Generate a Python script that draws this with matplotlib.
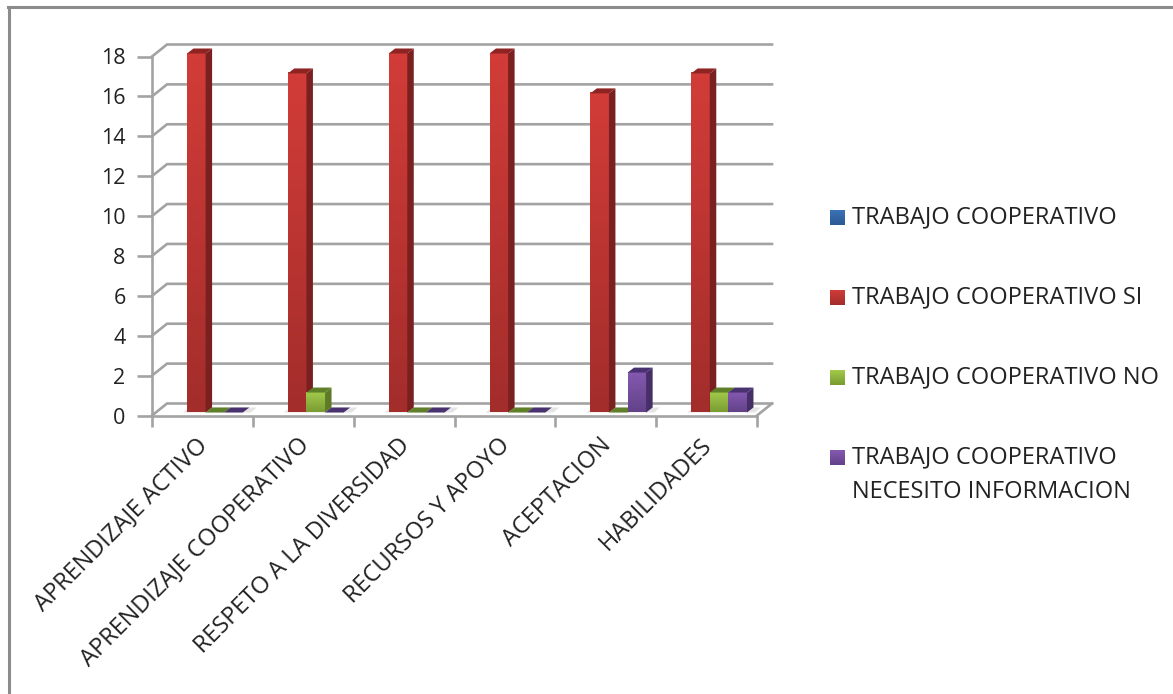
import matplotlib
matplotlib.use("Agg")
import matplotlib.pyplot as plt
import numpy as np
from matplotlib.colors import LinearSegmentedColormap
from matplotlib.patches import Polygon

categories = ["APRENDIZAJE ACTIVO", "APRENDIZAJE COOPERATIVO", "RESPETO A LA DIVERSIDAD",
              "RECURSOS Y APOYO", "ACEPTACION", "HABILIDADES"]
series_names = ["TRABAJO COOPERATIVO", "TRABAJO COOPERATIVO SI", "TRABAJO COOPERATIVO NO",
                "TRABAJO COOPERATIVO\nNECESITO INFORMACION"]
trabajo = [0, 0, 0, 0, 0, 0]
trabajo_si = [18, 17, 18, 18, 16, 17]
trabajo_no = [0, 1, 0, 0, 0, 1]
trabajo_info = [0, 0, 0, 0, 2, 1]
y_ticks = list(range(0, 20, 2))

# face top, face bottom, side, lid
red = ("#d23c38", "#a32d2b", "#7a2020", "#8e2422")
green = ("#a2c94a", "#7a9c32", "#5d7b27", "#5f7f28")
purple = ("#8459b0", "#634289", "#452f66", "#4a3270")

W, H = 1173, 694
fig = plt.figure(figsize=(W / 100, H / 100), dpi=100, facecolor="white")
plt.rcParams["font.family"] = ["Open Sans", "DejaVu Sans"]

# pixels of the front plane
left, right, y0, y18 = 152, 757, 415.5, 56.5
ax = fig.add_axes([left / W, 1 - y0 / H, (right - left) / W, (y0 - y18) / H])
ax.set_xlim(0, 6)
ax.set_ylim(0, 18)
ax.patch.set_visible(False)
for s in ax.spines.values():
    s.set_visible(False)

px_x = 6 / (right - left)  # one pixel in x data units
px_y = 18 / (y0 - y18)
depth_x, depth_y = 15 * px_x, 12 * px_y
grid_col = "#a3a3a3"
lw = 1.9

# floor and walls
for v in y_ticks:
    ax.plot([0, depth_x, 6 + depth_x], [v, v + depth_y, v + depth_y], color=grid_col, lw=lw,
            clip_on=False, solid_joinstyle="miter", zorder=1)
ax.plot([6, 6 + depth_x], [0, depth_y], color=grid_col, lw=lw, clip_on=False, zorder=1)
ax.plot([0, 6], [0, 0], color=grid_col, lw=lw, clip_on=False, zorder=2)
ax.plot([0, 0], [0, 18], color=grid_col, lw=lw, clip_on=False, zorder=2)

ax.set_xticks(range(7))
ax.set_xticklabels([])
ax.set_yticks(y_ticks)
ax.set_yticklabels(y_ticks, fontsize=15.5, color="#222222")
ax.tick_params(axis="y", length=11, width=lw, color=grid_col, pad=8)
ax.tick_params(axis="x", length=8, width=lw, color=grid_col)

bar_w = 18.6 * px_x
bar_dx, bar_dy = 6.5 * px_x, 5 * px_y
lift = 3 * px_y
first = 35 * px_x  # red bar offset inside a category


def draw_bar(x, v, cols):
    z = 5 + x
    if v > 0:
        cmap = LinearSegmentedColormap.from_list("b", [cols[0], cols[1]])
        im = ax.imshow(np.linspace(0, 1, 64).reshape(-1, 1), cmap=cmap, aspect="auto",
                       extent=[x, x + bar_w, lift, lift + v], zorder=z, origin="upper")
        im.set_clip_on(False)
        ax.add_patch(Polygon([(x + bar_w, lift), (x + bar_w + bar_dx, lift + bar_dy),
                              (x + bar_w + bar_dx, lift + v + bar_dy), (x + bar_w, lift + v)],
                             fc=cols[2], ec="none", zorder=z, clip_on=False))
    ax.add_patch(Polygon([(x, lift + v), (x + bar_dx, lift + v + bar_dy),
                          (x + bar_w + bar_dx, lift + v + bar_dy), (x + bar_w, lift + v)],
                         fc=cols[3], ec="none", zorder=z, clip_on=False))


for i in range(len(categories)):
    x = i + first
    # soft shadow on the floor
    ax.add_patch(Polygon([(x - 4 * px_x, lift), (x + 3 * bar_w + 8 * px_x, lift),
                          (x + 3 * bar_w + 14 * px_x, lift + bar_dy),
                          (x + 2 * px_x, lift + bar_dy)],
                         fc="#e4e4e4", ec="none", zorder=3, clip_on=False))
    draw_bar(x, trabajo_si[i], red)
    draw_bar(x + bar_w, trabajo_no[i], green)
    draw_bar(x + 2 * bar_w, trabajo_info[i], purple)

ax.set_xlim(0, 6)
ax.set_ylim(0, 18)

# rotated category labels, anchored at their upper right end
for i, name in enumerate(categories):
    ax.annotate(name, xy=(i + 0.5, 0), xytext=(2, -26), textcoords="offset pixels",
                rotation=45, rotation_mode="anchor", ha="right", va="center",
                fontsize=17, color="#222222", annotation_clip=False)

# hand-placed legend
legend_cols = ["#3a72b5", red[0], green[0], purple[0]]
legend_low = ["#2c5a94", red[1], green[1], purple[1]]
legend_y = [217, 297, 377, 457]
for name, c, c2, ly in zip(series_names, legend_cols, legend_low, legend_y):
    cmap = LinearSegmentedColormap.from_list("l", [c, c2])
    lax = fig.add_axes([830 / W, 1 - (ly + 8) / H, 15 / W, 15 / H])
    lax.imshow(np.linspace(0, 1, 16).reshape(-1, 1), cmap=cmap, aspect="auto")
    lax.axis("off")
    fig.text(852 / W, 1 - (ly - 12) / H, name, fontsize=17, color="#222222", va="top",
             linespacing=1.6)

# chart border, no right or bottom edge in the picture
fig.add_artist(plt.Line2D([9 / W, 9 / W], [0, 1 - 7.5 / H], color="#8c8c8c", lw=2.2))
fig.add_artist(plt.Line2D([8 / W, 1], [1 - 7 / H, 1 - 7 / H], color="#8c8c8c", lw=2.2))

fig.savefig("out.png", dpi=100)
